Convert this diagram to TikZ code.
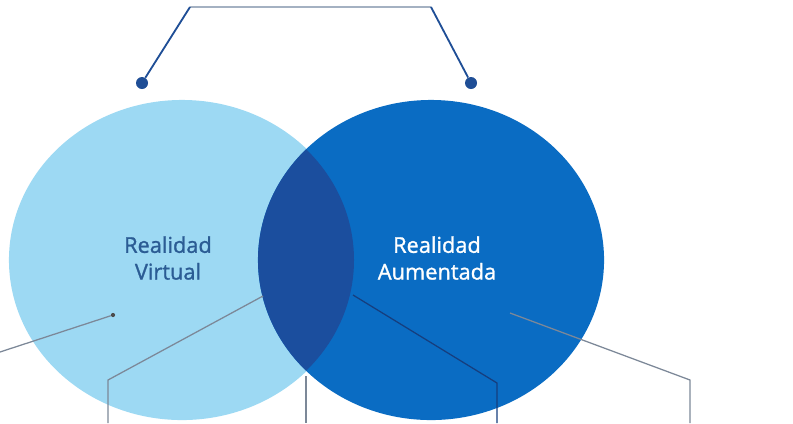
\documentclass[tikz,border=0pt]{standalone}
\usepackage{fontspec}
\setmainfont{Open Sans}
\newfontfamily\setnamefont[FakeBold=1.2]{Open Sans}
\usetikzlibrary{shapes.geometric}
\definecolor{vrblue}{HTML}{9DD9F3}
\definecolor{arblue}{HTML}{0A6CC3}
\definecolor{mixblue}{HTML}{1B4E9E}
\definecolor{vrtext}{HTML}{2B5C94}
\definecolor{linkblue}{HTML}{1F4E96}
\definecolor{bargray}{HTML}{A4B1C2}
\definecolor{leadgray}{HTML}{7C8898}
\begin{document}
\begin{tikzpicture}[x=0.025cm, y=-0.025cm,
    set/.style={ellipse, inner sep=0pt, minimum width=8.65cm, minimum height=8cm},
    label/.style={font=\setnamefont\fontsize{15.5}{19}\selectfont, align=center},
    pin/.style={circle, fill=linkblue, inner sep=0pt, minimum size=0.3cm},
    lead/.style={draw=leadgray, line width=0.9pt}]
    \useasboundingbox (0,0) rectangle (793,423);
    % the two sets and their overlap
    \node[set, fill=vrblue] (vr) at (182,260) {};
    \node[set, fill=arblue] (ar) at (431,260) {};
    \begin{scope}
        \clip (182,260) ellipse [x radius=172, y radius=160];
        \fill[mixblue] (431,260) ellipse [x radius=173, y radius=160];
    \end{scope}
    \node[label, text=vrtext] (vrname) at (168,258) {Realidad\\Virtual};
    \node[label, text=white] (arname) at (437,258) {Realidad\\Aumentada};
    % bracket on top
    \node[pin] (pinL) at (142,83) {};
    \node[pin] (pinR) at (471,83) {};
    \coordinate (topL) at (190,7);
    \coordinate (topR) at (431,7);
    \draw[bargray, line width=2pt] (topL) -- (topR);
    \draw[linkblue, line width=1.3pt] (pinL) -- (topL);
    \draw[linkblue, line width=1.3pt] (pinR) -- (topR);
    % leader lines at the bottom
    \node[circle, fill=black!70, inner sep=0pt, minimum size=3pt] (tip1) at (113,315) {};
    \coordinate (end1) at (0,352);
    \draw[lead] (tip1) -- (end1);
    \coordinate (tip2) at (263,296);
    \coordinate (bend2) at (108,380);
    \coordinate (end2) at (108,423);
    \draw[lead] (tip2) -- (bend2) -- (end2);
    \coordinate (tip3) at (306,376);
    \coordinate (end3) at (306,423);
    \draw[lead] (tip3) -- (end3);
    \coordinate (tip4) at (353,295);
    \coordinate (bend4) at (497,383);
    \coordinate (end4) at (497,423);
    \draw[lead, draw=mixblue!80!black] (tip4) -- (bend4) -- (end4);
    \coordinate (tip5) at (510,313);
    \coordinate (bend5) at (690,380);
    \coordinate (end5) at (690,423);
    \draw[lead] (tip5) -- (bend5) -- (end5);
\end{tikzpicture}
\end{document}
